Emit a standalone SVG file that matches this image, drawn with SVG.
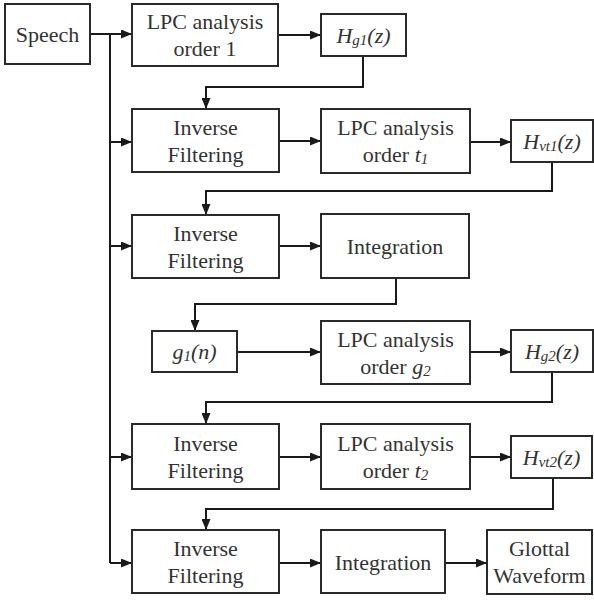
<svg xmlns="http://www.w3.org/2000/svg" width="594" height="601" viewBox="0 0 594 601" font-family="Liberation Serif, Times New Roman, serif">
<defs>
<marker id="ah" markerUnits="userSpaceOnUse" markerWidth="11" markerHeight="9" refX="10" refY="4.5" orient="auto">
<path d="M0,0 L11,4.5 L0,9 z" fill="#1a1a1a"/>
</marker>
<style>
rect{fill:#fff;stroke:#2a2a2a;stroke-width:2}
text{font-size:22px;fill:#333;text-anchor:middle}
.i{font-style:italic}
.s{font-size:15px;font-style:italic}
#conn path{fill:none;stroke:#1a1a1a;stroke-width:2}
#conn .a{marker-end:url(#ah)}
</style>
</defs>
<rect x="0" y="0" width="594" height="601" style="fill:#fff;stroke:none"/>
<g id="conn">
<path class="a" d="M90,34 H131"/>
<path d="M110,34 V563"/>
<path class="a" d="M110,142 H131"/>
<path class="a" d="M110,246 H131"/>
<path class="a" d="M110,457 H131"/>
<path class="a" d="M110,563 H131"/>
<path class="a" d="M278,35 H320"/>
<path class="a" d="M363,56 V87 H206 V108"/>
<path class="a" d="M279,141 H320"/>
<path class="a" d="M470,142 H510"/>
<path class="a" d="M552,162 V191 H206 V214"/>
<path class="a" d="M279,246 H320"/>
<path class="a" d="M396,278 V304 H195 V330"/>
<path class="a" d="M237,352 H320"/>
<path class="a" d="M470,352 H510"/>
<path class="a" d="M552,372 V402 H206 V423"/>
<path class="a" d="M279,457 H320"/>
<path class="a" d="M470,457 H510"/>
<path class="a" d="M553,478 V509 H206 V529"/>
<path class="a" d="M279,563 H320"/>
<path class="a" d="M445,563 H486"/>
</g>
<g id="speech"><rect x="5" y="4" width="85" height="60"/><text x="47.5" y="42">Speech</text></g>
<g id="lpc1"><rect x="132" y="4" width="146" height="62"/><text x="205" y="29">LPC analysis</text><text x="205" y="56">order 1</text></g>
<g id="hg1"><rect x="321" y="14" width="85" height="42"/><text x="363.5" y="43"><tspan class="i">H</tspan><tspan class="s" dy="2">g1</tspan><tspan class="i" dy="-2">(z)</tspan></text></g>
<g id="inv1"><rect x="132" y="109" width="147" height="63"/><text x="205.5" y="135">Inverse</text><text x="205.5" y="162">Filtering</text></g>
<g id="lpct1"><rect x="321" y="109" width="149" height="64"/><text x="395.5" y="135">LPC analysis</text><text x="395.5" y="162">order <tspan class="i">t</tspan><tspan class="s" dy="2">1</tspan></text></g>
<g id="hvt1"><rect x="511" y="120" width="82" height="42"/><text x="552" y="149"><tspan class="i">H</tspan><tspan class="s" dy="2">vt1</tspan><tspan class="i" dy="-2">(z)</tspan></text></g>
<g id="inv2"><rect x="132" y="215" width="147" height="63"/><text x="205.5" y="241">Inverse</text><text x="205.5" y="268">Filtering</text></g>
<g id="int1"><rect x="321" y="214" width="148" height="64"/><text x="395" y="254">Integration</text></g>
<g id="g1n"><rect x="152" y="331" width="85" height="41"/><text x="194.5" y="359"><tspan class="i">g</tspan><tspan class="s" dy="2">1</tspan><tspan class="i" dy="-2">(n)</tspan></text></g>
<g id="lpcg2"><rect x="321" y="321" width="149" height="63"/><text x="395.5" y="347">LPC analysis</text><text x="395.5" y="374">order <tspan class="i">g</tspan><tspan class="s" dy="2">2</tspan></text></g>
<g id="hg2"><rect x="511" y="330" width="82" height="42"/><text x="552" y="359"><tspan class="i">H</tspan><tspan class="s" dy="2">g2</tspan><tspan class="i" dy="-2">(z)</tspan></text></g>
<g id="inv3"><rect x="132" y="424" width="147" height="65"/><text x="205.5" y="451">Inverse</text><text x="205.5" y="478">Filtering</text></g>
<g id="lpct2"><rect x="321" y="424" width="149" height="65"/><text x="395.5" y="451">LPC analysis</text><text x="395.5" y="478">order <tspan class="i">t</tspan><tspan class="s" dy="2">2</tspan></text></g>
<g id="hvt2"><rect x="511" y="436" width="81" height="42"/><text x="551.5" y="465"><tspan class="i">H</tspan><tspan class="s" dy="2">vt2</tspan><tspan class="i" dy="-2">(z)</tspan></text></g>
<g id="inv4"><rect x="132" y="530" width="147" height="63"/><text x="205.5" y="556">Inverse</text><text x="205.5" y="583">Filtering</text></g>
<g id="int2"><rect x="321" y="530" width="124" height="63"/><text x="383" y="570">Integration</text></g>
<g id="glottal"><rect x="487" y="530" width="105" height="64"/><text x="539.5" y="556">Glottal</text><text x="539.5" y="583">Waveform</text></g>
</svg>
